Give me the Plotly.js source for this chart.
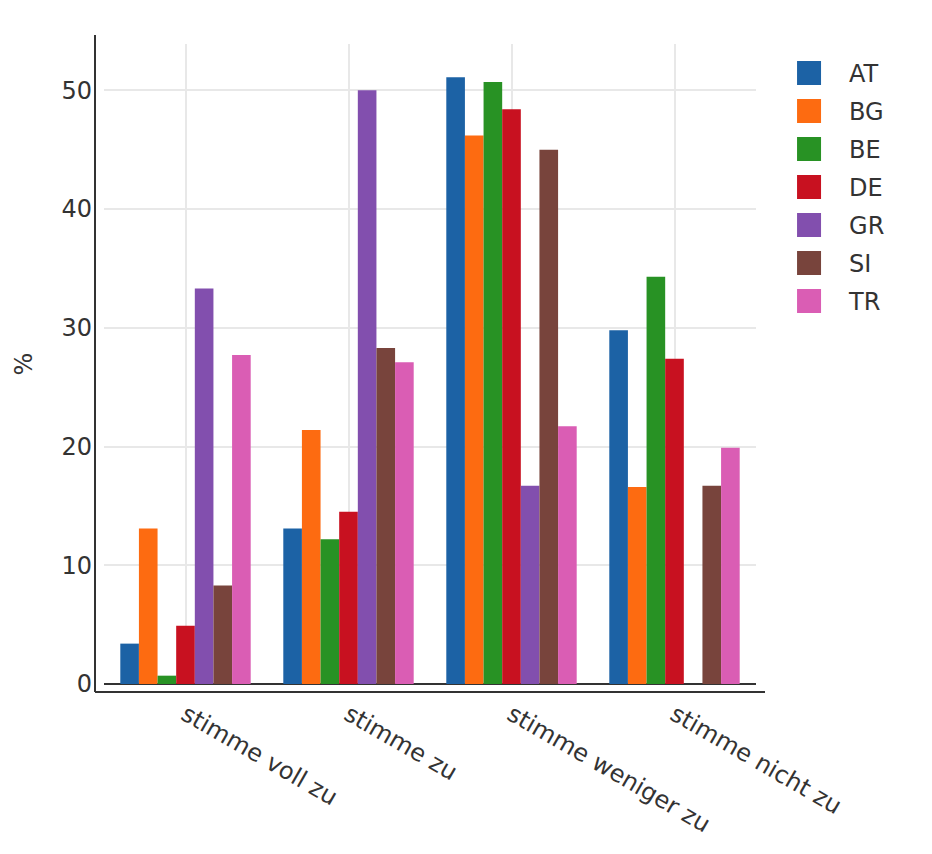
<!DOCTYPE html>
<html>
<head>
<meta charset="utf-8">
<script src="https://cdn.plot.ly/plotly-3.0.1.min.js"></script>
<style>
  html, body { margin: 0; padding: 0; background: #fff; width: 932px; height: 854px; }
  #wrap { position: relative; width: 932px; height: 854px; overflow: hidden; }
  #chart { position: absolute; left: 0; top: 0; width: 466px; height: 427px; transform: scale(2); transform-origin: 0 0; }
</style>
</head>
<body>
<div id="wrap"><div id="chart"></div></div>
<script>
const categories = ["stimme voll zu", "stimme zu", "stimme weniger zu", "stimme nicht zu"];
const countries = ["AT", "BG", "BE", "DE", "GR", "SI", "TR"];
const AT = [3.4, 13.1, 51.1, 29.8];
const BG = [13.1, 21.4, 46.2, 16.6];
const BE = [0.7, 12.2, 50.7, 34.3];
const DE = [4.9, 14.5, 48.4, 27.4];
const GR = [33.3, 50.0, 16.7, null];
const SI = [8.3, 28.3, 45.0, 16.7];
const TR = [27.7, 27.1, 21.7, 19.9];
const yTicks = [0, 10, 20, 30, 40, 50];

const seriesValues = [AT, BG, BE, DE, GR, SI, TR];
const colors = ["#1c62a5", "#fd6b11", "#289224", "#c81120", "#824fae", "#78443c", "#da5db4"];

const traces = countries.map((name, i) => ({
  type: "bar",
  name: name,
  x: categories,
  y: seriesValues[i],
  marker: { color: colors[i], line: { width: 0 } }
}));

const axisColor = "#333";
const layout = {
  width: 466,
  height: 427,
  margin: { l: 52, r: 88, t: 22, b: 85 },
  paper_bgcolor: "#fff",
  plot_bgcolor: "#fff",
  font: { family: "'DejaVu Sans', Verdana, sans-serif", size: 12, color: "#333" },
  barmode: "group",
  bargap: 0.2,
  bargroupgap: 0,
  showlegend: true,
  legend: { x: 1.02, y: 1, font: { size: 12 } },
  xaxis: {
    type: "category",
    tickangle: 30,
    showgrid: true,
    gridcolor: "#e8e8e8",
    showline: false,
    zeroline: false,
    ticks: "",
    ticklabelstandoff: 5
  },
  yaxis: {
    title: { text: "%", font: { size: 12 }, standoff: 11 },
    range: [0, 53.9],
    tickvals: yTicks,
    ticktext: yTicks.map(String),
    showgrid: true,
    gridcolor: "#e8e8e8",
    zeroline: true,
    zerolinecolor: axisColor,
    zerolinewidth: 1,
    showline: false,
    ticks: "",
    ticklabelstandoff: 5
  },
  shapes: [
    { type: "line", xref: "paper", yref: "paper", x0: -0.0138, x1: -0.0138, y0: -0.0125, y1: 1.014,
      line: { color: axisColor, width: 1 } },
    { type: "line", xref: "paper", yref: "paper", x0: -0.0138, x1: 1.0138, y0: -0.0125, y1: -0.0125,
      line: { color: axisColor, width: 1 } }
  ]
};

Plotly.newPlot("chart", traces, layout, { displayModeBar: false, staticPlot: true });
</script>
</body>
</html>
